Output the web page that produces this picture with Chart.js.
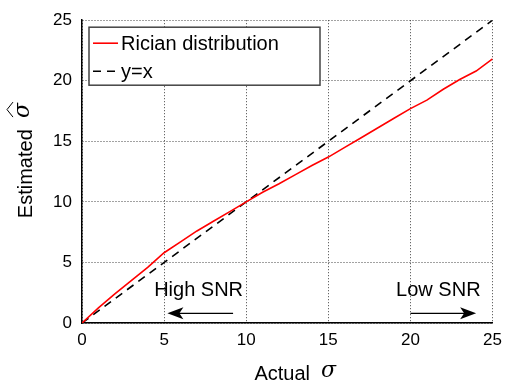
<!DOCTYPE html>
<html>
<head>
<meta charset="utf-8">
<script src="https://cdn.jsdelivr.net/npm/chart.js@4.4.0/dist/chart.umd.min.js"></script>
<style>
  html, body { margin: 0; padding: 0; background: #fff; }
  #wrap { width: 509px; height: 382px; }
</style>
</head>
<body>
<div id="wrap"><canvas id="sigmaChart" width="509" height="382"></canvas></div>
<script>
// values
var actualSigma   = [0, 1, 2, 3, 4, 5, 6, 7, 8, 9, 10, 11, 12, 13, 14, 15, 16, 17, 18, 19, 20, 21, 22, 23, 24, 25];
var ricianSigma   = [0, 1.25, 2.4, 3.5, 4.6, 5.8, 6.7, 7.6, 8.4, 9.2, 10.0, 10.8, 11.5, 12.25, 13.0, 13.7, 14.5, 15.3, 16.1, 16.9, 17.7, 18.4, 19.3, 20.1, 20.8, 21.8];
var identityX     = [0, 25];
var identityY     = [0, 25];
var seriesLabels  = ['Rician distribution', 'y=x'];
var tickValues    = [0, 5, 10, 15, 20, 25];

// annotation texts and arrows, in data units
var noteLabels = ['High SNR', 'Low SNR'];
var noteTextX  = [7.1, 21.7];
var noteTextY  = [2.7, 2.7];
var arrowFromX = [9.2, 20.0];
var arrowToX   = [5.2, 24.0];
var arrowY     = [0.8, 0.8];

var FONT = '"Liberation Sans", Arial, Helvetica, sans-serif';
var TEXT = '20px ' + FONT;

function toPoints(xs, ys) {
  return xs.map(function(x, i) { return { x: x, y: ys[i] }; });
}

// Legend box drawn inside the plot, top left
var boxLegend = {
  id: 'boxLegend',
  afterDatasetsDraw: function(chart) {
    var ctx = chart.ctx, a = chart.chartArea;
    var left = a.left + 7, top = a.top + 7, w = 231, h = 58;
    ctx.save();
    ctx.fillStyle = '#fff';
    ctx.fillRect(left, top, w, h);
    ctx.strokeStyle = '#444';
    ctx.lineWidth = 1.5;
    ctx.strokeRect(left, top, w, h);
    chart.data.datasets.forEach(function(ds, i) {
      var y = top + 16 + i * 28;
      ctx.beginPath();
      ctx.strokeStyle = ds.borderColor;
      ctx.lineWidth = ds.borderWidth;
      ctx.setLineDash(ds.borderDash || []);
      ctx.moveTo(left + 4, y);
      ctx.lineTo(left + 29, y);
      ctx.stroke();
      ctx.setLineDash([]);
      ctx.fillStyle = '#000';
      ctx.font = TEXT;
      ctx.textBaseline = 'middle';
      ctx.textAlign = 'left';
      ctx.fillText(ds.label, left + 32, y + 1);
    });
    ctx.restore();
  }
};

// SNR notes with arrows
var snrNotes = {
  id: 'snrNotes',
  afterDatasetsDraw: function(chart) {
    var ctx = chart.ctx, xs = chart.scales.x, ys = chart.scales.y;
    ctx.save();
    ctx.font = TEXT;
    ctx.fillStyle = '#000';
    ctx.textAlign = 'center';
    ctx.textBaseline = 'middle';
    for (var i = 0; i < noteLabels.length; i++) {
      ctx.fillText(noteLabels[i], xs.getPixelForValue(noteTextX[i]), ys.getPixelForValue(noteTextY[i]));
      var x0 = xs.getPixelForValue(arrowFromX[i]);
      var x1 = xs.getPixelForValue(arrowToX[i]);
      var y = ys.getPixelForValue(arrowY[i]);
      var dir = x1 > x0 ? 1 : -1;
      ctx.strokeStyle = '#000';
      ctx.lineWidth = 1.3;
      ctx.beginPath();
      ctx.moveTo(x0, y);
      ctx.lineTo(x1 - dir * 10, y);
      ctx.stroke();
      ctx.beginPath();
      ctx.moveTo(x1, y);
      ctx.lineTo(x1 - dir * 16, y - 6);
      ctx.lineTo(x1 - dir * 12, y);
      ctx.lineTo(x1 - dir * 16, y + 6);
      ctx.closePath();
      ctx.fill();
    }
    ctx.restore();
  }
};

// axis titles with italic sigma
var axisTitles = {
  id: 'axisTitles',
  afterDraw: function(chart) {
    var ctx = chart.ctx, a = chart.chartArea;
    ctx.save();
    ctx.fillStyle = '#000';
    ctx.textBaseline = 'middle';
    var serif = 'italic 22px "DejaVu Serif", "Liberation Serif", serif';
    // x title
    ctx.font = TEXT;
    var w1 = ctx.measureText('Actual  ').width;
    ctx.font = serif;
    var w2 = ctx.measureText('σ').width;
    var sx = (a.left + a.right) / 2 + 8 - (w1 + w2) / 2;
    ctx.textAlign = 'left';
    ctx.font = TEXT;
    ctx.fillText('Actual  ', sx, 374);
    ctx.font = serif;
    ctx.fillText('σ', sx + w1, 371);
    // y title, rotated
    ctx.translate(26, (a.top + a.bottom) / 2 - 11);
    ctx.rotate(-Math.PI / 2);
    ctx.font = TEXT;
    w1 = ctx.measureText('Estimated  ').width;
    ctx.font = serif;
    w2 = ctx.measureText('σ').width;
    sx = -(w1 + w2) / 2;
    ctx.font = TEXT;
    ctx.fillText('Estimated  ', sx, 0);
    ctx.font = serif;
    ctx.fillText('σ', sx + w1, -3);
    ctx.strokeStyle = '#000';
    ctx.lineWidth = 1;
    ctx.beginPath();
    ctx.moveTo(sx + w1 + 1, -13);
    ctx.lineTo(sx + w1 + w2 / 2 + 1, -19);
    ctx.lineTo(sx + w1 + w2 + 1, -13);
    ctx.stroke();
    ctx.restore();
  }
};

var ctx = document.getElementById('sigmaChart').getContext('2d');
new Chart(ctx, {
  type: 'line',
  data: {
    datasets: [{
      label: seriesLabels[0],
      data: toPoints(actualSigma, ricianSigma),
      borderColor: '#ff0000',
      borderWidth: 1.6,
      pointRadius: 0,
      tension: 0,
      fill: false
    }, {
      label: seriesLabels[1],
      data: toPoints(identityX, identityY),
      borderColor: '#000',
      borderWidth: 1.6,
      borderDash: [8, 6],
      pointRadius: 0,
      fill: false
    }]
  },
  options: {
    responsive: false,
    animation: false,
    layout: { padding: { left: 0, right: 12, top: 17, bottom: 0 } },
    plugins: {
      legend: { display: false },
      tooltip: { enabled: false }
    },
    scales: {
      x: {
        type: 'linear',
        min: 0,
        max: 25,
        afterBuildTicks: function(scale) { scale.ticks = tickValues.map(function(v) { return { value: v }; }); },
        afterFit: function(scale) { scale.height = 59; },
        ticks: { color: '#000', padding: 7, font: { family: FONT, size: 17 }, maxRotation: 0 },
        grid: { color: '#444', lineWidth: 1, drawTicks: false },
        border: { display: true, color: '#000', width: 1.5, dash: [1, 2] }
      },
      y: {
        type: 'linear',
        min: 0,
        max: 25,
        afterBuildTicks: function(scale) { scale.ticks = tickValues.map(function(v) { return { value: v }; }); },
        afterFit: function(scale) { scale.width = 82; },
        ticks: { color: '#000', padding: 10, font: { family: FONT, size: 17 } },
        grid: { color: '#444', lineWidth: 1, drawTicks: false },
        border: { display: true, color: '#000', width: 1.5, dash: [1, 2] }
      }
    }
  },
  plugins: [boxLegend, snrNotes, axisTitles]
});
</script>
</body>
</html>
